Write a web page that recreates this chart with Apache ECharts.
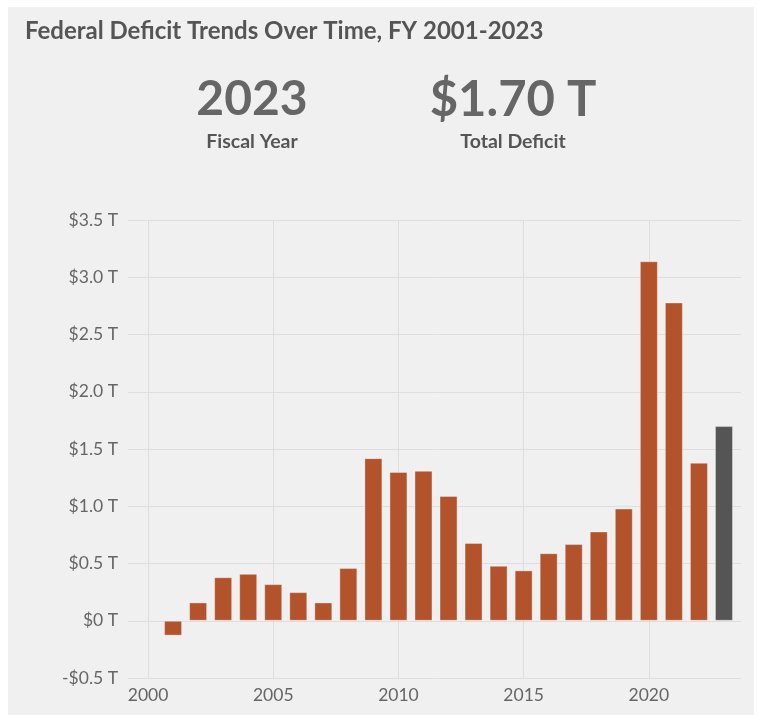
<!DOCTYPE html>
<html>
<head>
<meta charset="utf-8">
<script src="https://cdn.jsdelivr.net/npm/echarts@6/dist/echarts.min.js"></script>
<style>
  html, body { margin: 0; padding: 0; background: #ffffff; }
  #panel { position: absolute; left: 8px; top: 7px; width: 746px; height: 708px; background: #f0f0f0; }
  #chart { position: absolute; left: 0; top: 0; width: 757px; height: 715px; }
</style>
</head>
<body>
<div id="panel"></div>
<div id="chart"></div>
<script>
const years = [2001,2002,2003,2004,2005,2006,2007,2008,2009,2010,2011,2012,2013,2014,2015,2016,2017,2018,2019,2020,2021,2022,2023];
const deficits = [-0.13,0.16,0.38,0.41,0.32,0.25,0.16,0.46,1.42,1.30,1.31,1.09,0.68,0.48,0.44,0.59,0.67,0.78,0.98,3.14,2.78,1.38,1.70];
const xTicks = [2000, 2005, 2010, 2015, 2020];
const highlightYear = 2023;
const titleText = 'Federal Deficit Trends Over Time, FY 2001-2023';
const statYear = '2023';
const statYearLabel = 'Fiscal Year';
const statValue = '$1.70 T';
const statValueLabel = 'Total Deficit';

const FONT = 'Lato, "Noto Sans", sans-serif';
const chart = echarts.init(document.getElementById('chart'));
const data = years.map((y, i) => ({
  value: [y, deficits[i]],
  itemStyle: { color: y === highlightYear ? '#555555' : '#b3532c' }
}));

chart.setOption({
  backgroundColor: 'transparent',
  animation: false,
  textStyle: { fontFamily: FONT },
  title: {
    text: titleText, left: 20, top: 14,
    textStyle: { fontFamily: FONT, fontSize: 24, fontWeight: 'bold', color: '#555555' }
  },
  graphic: [
    { type: 'text', x: 252, y: 100, style: { text: statYear, textAlign: 'center', textVerticalAlign: 'middle', font: 'bold 48px ' + FONT, fill: '#666666' } },
    { type: 'text', x: 252, y: 142, style: { text: statYearLabel, textAlign: 'center', textVerticalAlign: 'middle', font: 'bold 19.5px ' + FONT, fill: '#555555' } },
    { type: 'text', x: 513, y: 100, style: { text: statValue, textAlign: 'center', textVerticalAlign: 'middle', font: 'bold 49px ' + FONT, fill: '#666666' } },
    { type: 'text', x: 513, y: 142, style: { text: statValueLabel, textAlign: 'center', textVerticalAlign: 'middle', font: 'bold 19.5px ' + FONT, fill: '#555555' } }
  ],
  grid: { left: 128, right: 16, top: 220, bottom: 37, containLabel: false },
  xAxis: {
    type: 'value', min: 1999.2, max: 2023.68,
    axisLine: { show: false },
    axisTick: { show: false, customValues: xTicks },
    splitLine: { show: true, lineStyle: { color: '#dedede', width: 1 } },
    axisLabel: {
      color: '#666666', fontSize: 17.5, margin: 8,
      customValues: xTicks,
      formatter: v => String(v)
    }
  },
  yAxis: {
    type: 'value', min: -0.5, max: 3.5, interval: 0.5,
    axisLine: { show: false }, axisTick: { show: false },
    splitLine: { lineStyle: { color: '#dedede', width: 1 } },
    axisLabel: {
      color: '#666666', fontSize: 17.5, margin: 10,
      formatter: v => {
        const s = Math.abs(v) < 1e-9 ? '0' : Math.abs(v).toFixed(1);
        return (v < 0 ? '-$' : '$') + s + ' T';
      }
    }
  },
  series: [{
    type: 'bar', data: data, barWidth: 18,
    itemStyle: { borderColor: 'rgba(255,255,255,0.35)', borderWidth: 1 }
  }]
});
</script>
</body>
</html>
